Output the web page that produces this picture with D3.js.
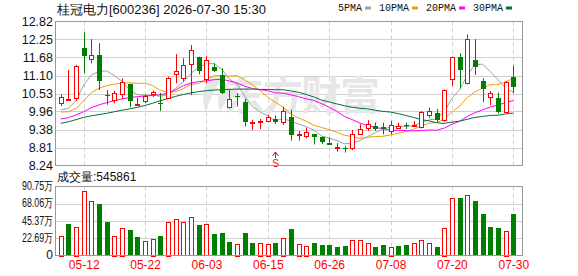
<!DOCTYPE html>
<html>
<head>
<meta charset="utf-8">
<script src="https://cdn.jsdelivr.net/npm/d3@7"></script>
<style>
body { margin: 0; background: #fff; }
svg { display: block; font-family: "Liberation Sans", sans-serif; }
</style>
</head>
<body>
<svg id="chart" width="578" height="276"></svg>
<script>
/* trading days shown on the chart */
var dates = ['05-07','05-08','05-11','05-12','05-13','05-14','05-15','05-18','05-19','05-20',
	'05-21','05-22','05-25','05-26','05-27','05-28','05-29','06-01','06-02','06-03',
	'06-04','06-05','06-08','06-09','06-10','06-11','06-12','06-15','06-16','06-17',
	'06-18','06-22','06-23','06-24','06-25','06-26','06-29','06-30','07-01','07-02',
	'07-03','07-06','07-07','07-08','07-09','07-10','07-13','07-14','07-15','07-16',
	'07-17','07-20','07-21','07-22','07-23','07-24','07-27','07-28','07-29','07-30'];

var opens = [10.22,10.34,10.36,11.98,11.62,11.75,10.49,10.32,10.54,10.82,
	10.18,10.29,10.52,10.24,10.38,11.14,11.04,11.46,11.68,11.01,
	11.38,11.12,10.11,10.45,10.27,9.59,9.63,9.66,9.71,9.63,
	9.79,9.22,9.19,9.23,9.15,8.95,8.80,8.81,8.77,9.24,
	9.42,9.50,9.47,9.34,9.46,9.52,9.49,9.44,9.85,9.90,
	9.69,10.99,11.68,10.85,11.60,10.93,10.43,10.40,9.95,11.04];
var highs = [10.50,11.28,11.44,12.48,12.26,12.13,10.64,10.62,11.01,10.84,
	10.40,10.50,10.62,10.55,11.07,11.78,11.65,12.07,11.70,11.73,
	11.49,11.33,10.64,10.54,10.36,9.69,9.72,9.85,9.83,10.11,
	10.01,9.34,9.44,9.24,9.16,9.13,8.95,8.87,9.37,9.55,
	9.68,9.61,9.60,9.66,9.60,9.61,9.66,9.97,10.08,10.04,
	10.66,11.70,11.81,12.41,12.26,11.01,10.61,10.56,10.93,11.42];
var lows = [10.13,10.29,10.29,11.17,11.49,10.64,10.17,10.22,10.36,10.09,
	10.14,10.22,10.42,9.98,10.36,10.85,10.91,10.48,11.14,10.85,
	11.22,10.51,10.06,10.11,9.48,9.37,9.40,9.63,9.56,9.53,
	9.03,9.03,9.10,8.91,8.92,8.89,8.68,8.65,8.73,9.23,
	9.34,9.34,9.23,9.23,9.44,9.40,9.48,9.42,9.76,9.63,
	9.63,10.77,10.69,10.82,11.12,10.25,10.16,9.90,9.93,10.54];
var closes = [10.41,10.35,11.39,11.73,11.75,10.91,10.47,10.54,10.91,10.27,
	10.20,10.45,10.58,10.22,11.01,11.25,11.44,11.91,11.22,11.60,
	11.25,10.54,10.36,10.41,9.64,9.62,9.66,9.79,9.61,9.97,
	9.21,9.24,9.32,9.13,8.98,8.90,8.83,8.80,9.23,9.39,
	9.55,9.42,9.41,9.53,9.51,9.50,9.52,9.93,9.97,9.69,
	10.64,11.68,11.28,12.25,11.38,10.69,10.56,9.95,10.91,10.72];

/* volume in 万 (10k) */
var volumes = [26.1,41.2,38.1,84.6,71.3,67.8,43.8,26.1,36.8,33.2,
	23.9,18.6,22.1,25.2,44.7,47.4,44.0,50.0,39.9,41.2,
	27.9,29.2,17.7,15.5,29.2,15.9,16.8,15.5,15.9,23.5,
	34.5,15.5,12.8,15.9,13.3,13.3,11.5,12.0,19.9,19.9,
	15.9,10.6,13.3,11.5,12.0,13.3,15.9,19.9,15.9,10.6,
	36.8,75.3,75.7,79.3,71.3,54.5,37.2,36.0,32.8,54.5861];

var ma5 = [10.01,10.06,10.30,10.80,11.12,11.23,11.25,11.10,10.92,10.64,
	10.50,10.47,10.48,10.44,10.50,10.70,10.90,11.17,11.37,11.48,
	11.48,11.30,10.99,10.83,10.44,10.11,9.94,9.82,9.66,9.73,
	9.65,9.56,9.47,9.37,9.18,9.11,9.03,8.93,8.95,9.03,
	9.16,9.28,9.40,9.46,9.49,9.48,9.50,9.61,9.69,9.72,
	9.95,10.38,10.65,11.11,11.45,11.46,11.23,10.97,10.70,10.57];
var ma10 = [9.94,9.95,10.05,10.30,10.56,10.70,10.78,10.83,10.86,10.87,
	10.85,10.86,10.78,10.63,10.56,10.59,10.69,10.82,10.85,10.99,
	11.09,11.10,11.08,11.10,10.96,10.80,10.62,10.41,10.25,10.09,
	9.88,9.75,9.65,9.52,9.45,9.38,9.30,9.20,9.16,9.10,
	9.14,9.16,9.17,9.21,9.26,9.32,9.39,9.50,9.58,9.61,
	9.72,9.94,10.13,10.40,10.58,10.70,10.81,10.81,10.90,11.01];
var ma20 = [9.72,9.76,9.85,9.95,10.08,10.17,10.24,10.30,10.36,10.40,
	10.43,10.45,10.47,10.49,10.55,10.65,10.78,10.86,10.91,10.93,
	10.97,10.98,10.93,10.86,10.76,10.69,10.65,10.62,10.55,10.54,
	10.49,10.43,10.36,10.31,10.21,10.09,9.96,9.80,9.70,9.59,
	9.51,9.45,9.41,9.36,9.36,9.35,9.34,9.35,9.37,9.36,
	9.43,9.55,9.65,9.80,9.92,10.01,10.10,10.16,10.24,10.31];
var ma30 = [9.58,9.63,9.70,9.77,9.82,9.86,9.90,9.95,10.00,10.04,
	10.09,10.15,10.22,10.30,10.37,10.44,10.50,10.55,10.59,10.62,
	10.64,10.65,10.66,10.67,10.67,10.67,10.66,10.66,10.65,10.65,
	10.61,10.57,10.50,10.42,10.32,10.26,10.20,10.14,10.09,10.06,
	10.04,10.00,9.96,9.94,9.89,9.83,9.77,9.70,9.66,9.60,
	9.58,9.62,9.65,9.71,9.77,9.80,9.83,9.84,9.88,9.91];

var priceTicks = [8.24, 8.81, 9.38, 9.96, 10.53, 11.10, 11.68, 12.25, 12.82];
var volumeTicks = [0, 22.69, 45.37, 68.06, 90.75];
var dateTicks = ['05-12','05-22','06-03','06-15','06-26','07-08','07-20','07-30'];
var signalDate = '06-16';

var maNames = ['5PMA', '10PMA', '20PMA', '30PMA'];
var maColors = ['#a0a0a0', '#f0a000', '#ff00ff', '#00703a'];

var RED = '#ff0000', GREEN = '#008000', GRID = '#d0d0d0', FRAME = '#999999';

var svg = d3.select('#chart');

var x = d3.scalePoint().domain(dates).range([60.7, 513.3]);
var y = d3.scaleLinear().domain([8.24, 12.82]).range([165.5, 21.5]);
var yv = d3.scaleLinear().domain([0, 90.75]).range([255.5, 186.5]);

var left = 55.5, right = 522.5;

function px(d){ return Math.round(x(d)) + 0.5; }

// horizontal grid
function hgrid(scale, ticks){
	svg.append('g').selectAll('line')
	.data(ticks.slice(1, -1))
	.enter().append('line')
	.attr('x1', left).attr('x2', right)
	.attr('y1', function(d){ return Math.round(scale(d)) + 0.5; })
	.attr('y2', function(d){ return Math.round(scale(d)) + 0.5; })
	.attr('stroke', GRID);
}
hgrid(y, priceTicks);
hgrid(yv, volumeTicks);

// vertical dashed grid
[[y.range()[1], y.range()[0]], [yv.range()[1], yv.range()[0]]].forEach(function(r){
	svg.append('g').selectAll('line')
	.data(dateTicks)
	.enter().append('line')
	.attr('x1', px).attr('x2', px)
	.attr('y1', r[0]).attr('y2', r[1])
	.attr('stroke', GRID)
	.attr('stroke-dasharray', '4,3');
});

// watermark
var wm = svg.append('g').attr('fill', '#e6e6e6');
wm.append('path')
	.attr('d', 'M214,74 C204,82 200,96 206,112 C210,100 214,88 222,80 Z M226,84 C218,92 216,102 220,112 C224,104 228,96 234,92 Z');
wm.append('text')
	.attr('x', 224).attr('y', 110)
	.attr('font-family', '"Noto Sans CJK SC", sans-serif')
	.attr('font-weight', 'bold')
	.attr('font-size', 40)
	.attr('textLength', 156)
	.text('东方财富');

// MA lines
var maSeries = [ma5, ma10, ma20, ma30];
var line = d3.line()
	.x(function(d, i){ return x(dates[i]); })
	.y(function(d){ return y(d); });

maSeries.forEach(function(s, k){
	svg.append('path')
	.datum(s)
	.attr('d', line)
	.attr('fill', 'none')
	.attr('stroke', maColors[k])
	.attr('stroke-width', 1);
});

// candles
var bars = dates.map(function(d, i){
	return {
		date: d, o: opens[i], h: highs[i], l: lows[i], c: closes[i], v: volumes[i],
		up: closes[i] >= opens[i],
		volUp: i == 0 ? closes[i] >= opens[i] : closes[i] >= closes[i - 1]
	};
});

var candle = svg.append('g').selectAll('g')
	.data(bars)
	.enter().append('g');

candle.append('line')
	.attr('x1', function(d){ return px(d.date); })
	.attr('x2', function(d){ return px(d.date); })
	.attr('y1', function(d){ return y(d.h); })
	.attr('y2', function(d){ return y(d.l); })
	.attr('stroke', function(d){ return d.up ? RED : GREEN; });

candle.append('rect')
	.attr('x', function(d){ return d.up ? px(d.date) - 2 : px(d.date) - 2.5; })
	.attr('width', function(d){ return d.up ? 4 : 5; })
	.attr('y', function(d){ return Math.round(y(Math.max(d.o, d.c))) + (d.up ? 0.5 : 0); })
	.attr('height', function(d){ return Math.max(Math.round(Math.abs(y(d.o) - y(d.c))), 1); })
	.attr('fill', function(d){ return d.up ? '#fff' : GREEN; })
	.attr('stroke', function(d){ return d.up ? RED : 'none'; });

// volume bars
svg.append('g').selectAll('rect')
	.data(bars)
	.enter().append('rect')
	.attr('x', function(d){ return d.volUp ? px(d.date) - 2 : px(d.date) - 2.5; })
	.attr('width', function(d){ return d.volUp ? 4 : 5; })
	.attr('y', function(d){ return Math.round(yv(d.v)) + (d.volUp ? 0.5 : 0); })
	.attr('height', function(d){ return Math.round(yv(0) - yv(d.v)); })
	.attr('fill', function(d){ return d.volUp ? '#fff' : GREEN; })
	.attr('stroke', function(d){ return d.volUp ? RED : 'none'; });

// signal mark
var sx = px(signalDate);
svg.append('path')
	.attr('d', 'M' + (sx - 3) + ',156 L' + sx + ',152 L' + (sx + 3) + ',156 M' + sx + ',152 L' + sx + ',158')
	.attr('stroke', RED).attr('fill', 'none');
svg.append('text')
	.attr('x', sx).attr('y', 167)
	.attr('text-anchor', 'middle')
	.attr('font-size', 10)
	.attr('fill', RED)
	.text('S');

// frames
svg.append('rect').attr('x', left).attr('y', 21.5).attr('width', right - left).attr('height', 144)
	.attr('fill', 'none').attr('stroke', FRAME);
svg.append('rect').attr('x', left).attr('y', 186.5).attr('width', right - left).attr('height', 69)
	.attr('fill', 'none').attr('stroke', FRAME);

// axes
var yAxis = svg.append('g')
	.attr('transform', 'translate(53,0)')
	.call(d3.axisLeft(y).tickValues(priceTicks).tickSize(0).tickPadding(0).tickFormat(d3.format('.2f')));
yAxis.select('.domain').remove();
yAxis.selectAll('text').attr('font-size', 12.5).attr('fill', '#111').attr('font-family', '"Liberation Sans", sans-serif');

var vAxis = svg.append('g')
	.attr('transform', 'translate(53,0)')
	.call(d3.axisLeft(yv).tickValues(volumeTicks).tickSize(0).tickPadding(0)
		.tickFormat(function(d){ return d == 0 ? '0' : d.toFixed(2) + '万'; }));
vAxis.select('.domain').remove();
vAxis.selectAll('text')
	.attr('font-size', 12).attr('fill', '#111').attr('font-family', '"Liberation Sans", sans-serif')
	.attr('dy', '0.25em')
	.each(function(d){
		if(d != 0){
			d3.select(this).attr('textLength', 31).attr('lengthAdjust', 'spacingAndGlyphs');
		}
	});

var xAxis = svg.append('g')
	.attr('transform', 'translate(0,255.5)')
	.call(d3.axisBottom(x).tickValues(dateTicks).tickSize(0).tickPadding(5));
xAxis.select('.domain').remove();
xAxis.selectAll('text').attr('font-size', 12).attr('fill', RED).attr('font-family', '"Liberation Sans", sans-serif');

// titles
svg.append('text')
	.attr('x', 57).attr('y', 14)
	.attr('font-size', 13)
	.attr('fill', '#111')
	.text('桂冠电力[600236] 2026-07-30 15:30');

svg.append('text')
	.attr('x', 57).attr('y', 181)
	.attr('font-size', 12)
	.attr('fill', '#111')
	.text('成交量:' + Math.round(volumes[volumes.length - 1] * 10000));

// legend
var lx = 338;
maNames.forEach(function(name, k){
	var t = svg.append('text')
		.attr('x', lx).attr('y', 11)
		.attr('font-family', '"Liberation Mono", monospace')
		.attr('font-size', 10)
		.attr('fill', '#111')
		.text(name);
	var w = t.node().getComputedTextLength();
	svg.append('rect')
		.attr('x', lx + w + 3).attr('y', 6.5)
		.attr('width', 6).attr('height', 3)
		.attr('fill', maColors[k]);
	lx = lx + w + 3 + 6 + 8;
});
</script>
</body>
</html>
